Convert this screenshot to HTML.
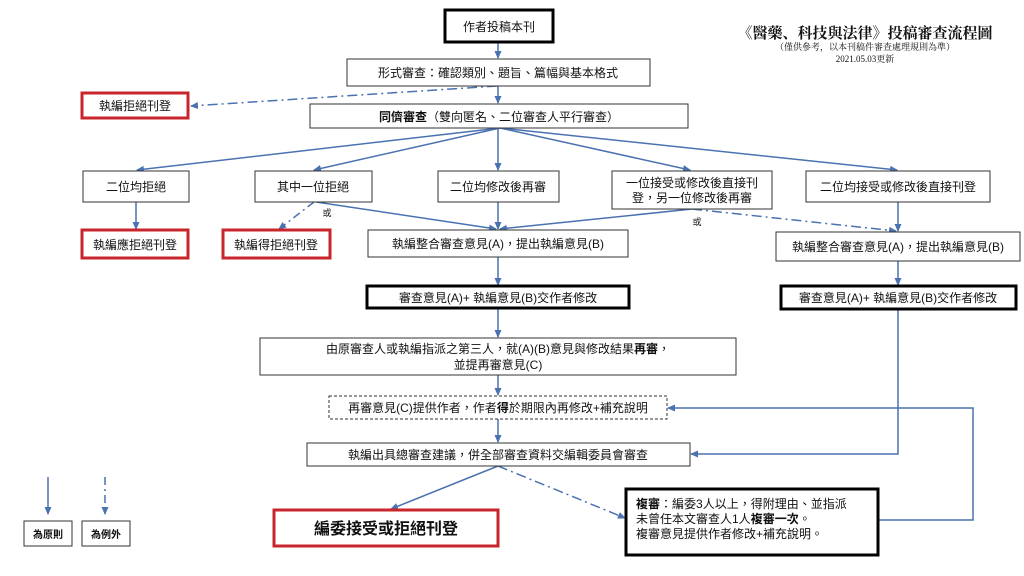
<!DOCTYPE html>
<html><head><meta charset="utf-8"><style>
body{margin:0;background:#fff;}
svg{display:block;}
text{font-family:"Liberation Sans","Noto Sans CJK TC",sans-serif;font-size:12px;fill:#111;}
.t{font-family:"Liberation Serif","Noto Serif CJK SC",serif;}
</style></head><body>
<svg width="1024" height="576" viewBox="0 0 1024 576" xmlns="http://www.w3.org/2000/svg">
<defs>
<marker id="a" markerWidth="8" markerHeight="8" refX="7" refY="4" orient="auto" markerUnits="userSpaceOnUse">
<path d="M0,0.5 L8,4 L0,7.5 Z" fill="#4a72b0"/></marker>
</defs>
<g stroke="#4a72b0" stroke-width="1.5" fill="none">
<line x1="498" y1="42" x2="498" y2="58" marker-end="url(#a)"/>
<line x1="498" y1="86" x2="498" y2="103" marker-end="url(#a)"/>
<line x1="497" y1="86" x2="191" y2="106" stroke-dasharray="10,4,2,4" marker-end="url(#a)"/>
<line x1="500" y1="128" x2="137" y2="170" marker-end="url(#a)"/>
<line x1="500" y1="128" x2="314" y2="170" marker-end="url(#a)"/>
<line x1="498" y1="128" x2="498" y2="170" marker-end="url(#a)"/>
<line x1="500" y1="128" x2="690" y2="170" marker-end="url(#a)"/>
<line x1="500" y1="128" x2="897" y2="170" marker-end="url(#a)"/>
<line x1="136" y1="202" x2="136" y2="229" marker-end="url(#a)"/>
<line x1="314" y1="202" x2="279" y2="229" stroke-dasharray="8,4,2,4" marker-end="url(#a)"/>
<line x1="316" y1="202" x2="496" y2="229" marker-end="url(#a)"/>
<line x1="498" y1="202" x2="498" y2="229" marker-end="url(#a)"/>
<line x1="692" y1="209" x2="500" y2="229" marker-end="url(#a)"/>
<line x1="692" y1="209" x2="896" y2="231" stroke-dasharray="10,4,2,4" marker-end="url(#a)"/>
<line x1="898" y1="202" x2="898" y2="231" marker-end="url(#a)"/>
<line x1="498" y1="257" x2="498" y2="285" marker-end="url(#a)"/>
<line x1="898" y1="261" x2="898" y2="285" marker-end="url(#a)"/>
<line x1="498" y1="308" x2="498" y2="337" marker-end="url(#a)"/>
<line x1="498" y1="375" x2="498" y2="395" marker-end="url(#a)"/>
<line x1="498" y1="419" x2="498" y2="442" marker-end="url(#a)"/>
<polyline points="898,309 898,454 691,454" marker-end="url(#a)"/>
<polyline points="878,520 973,520 973,408 668,408" marker-end="url(#a)"/>
<line x1="498" y1="466" x2="391" y2="509" marker-end="url(#a)"/>
<line x1="498" y1="466" x2="625" y2="518" stroke-dasharray="10,4,2,4" marker-end="url(#a)"/>
<line x1="48" y1="477" x2="48" y2="514" marker-end="url(#a)"/>
<line x1="105" y1="477" x2="105" y2="514" stroke-dasharray="8,4,2,4" marker-end="url(#a)"/>
</g>
<g fill="#fff" stroke="#333" stroke-width="1">
<rect x="445" y="10" width="108" height="32" stroke="#000" stroke-width="3"/>
<rect x="347" y="59" width="303" height="27"/>
<rect x="310" y="104" width="378" height="24"/>
<rect x="83" y="171" width="106" height="31"/>
<rect x="255" y="171" width="117" height="31"/>
<rect x="438" y="171" width="121" height="31"/>
<rect x="612" y="171" width="160" height="38"/>
<rect x="806" y="171" width="184" height="31"/>
<rect x="368" y="230" width="260" height="27"/>
<rect x="776" y="232" width="244" height="29"/>
<rect x="367" y="286" width="262" height="22" stroke="#000" stroke-width="3"/>
<rect x="781" y="286" width="235" height="23" stroke="#000" stroke-width="3"/>
<rect x="260" y="338" width="476" height="37"/>
<rect x="329" y="396" width="338" height="23" stroke-dasharray="3,2"/>
<rect x="307" y="443" width="383" height="23"/>
<rect x="626" y="489" width="252" height="66" stroke="#000" stroke-width="3"/>
<rect x="82" y="93" width="106" height="25" stroke="#c8262b" stroke-width="3"/>
<rect x="82" y="230" width="106" height="28" stroke="#c8262b" stroke-width="3"/>
<rect x="223" y="230" width="107" height="28" stroke="#c8262b" stroke-width="3"/>
<rect x="274" y="510" width="224" height="36" stroke="#c8262b" stroke-width="3"/>
<rect x="24" y="521" width="48" height="25"/>
<rect x="82" y="521" width="48" height="25"/>
</g>
<g text-anchor="middle">
<text x="499" y="31">作者投稿本刊</text>
<text x="498" y="77">形式審查：確認類別、題旨、篇幅與基本格式</text>
<text x="135" y="110">執編拒絕刊登</text>
<text x="499" y="121"><tspan font-weight="bold">同儕審查</tspan>（雙向匿名、二位審查人平行審查）</text>
<text x="136" y="191">二位均拒絕</text>
<text x="313" y="191">其中一位拒絕</text>
<text x="498" y="191">二位均修改後再審</text>
<text x="692" y="187">一位接受或修改後直接刊</text>
<text x="692" y="202">登，另一位修改後再審</text>
<text x="898" y="191">二位均接受或修改後直接刊登</text>
<text x="135" y="249">執編應拒絕刊登</text>
<text x="276" y="249">執編得拒絕刊登</text>
<text x="498" y="248">執編整合審查意見(A)，提出執編意見(B)</text>
<text x="898" y="251">執編整合審查意見(A)，提出執編意見(B)</text>
<text x="498" y="302">審查意見(A)+ 執編意見(B)交作者修改</text>
<text x="898" y="302">審查意見(A)+ 執編意見(B)交作者修改</text>
<text x="498" y="353">由原審查人或執編指派之第三人，就(A)(B)意見與修改結果<tspan font-weight="bold">再審</tspan>，</text>
<text x="498" y="369">並提再審意見(C)</text>
<text x="498" y="412">再審意見(C)提供作者，作者<tspan font-weight="bold">得</tspan>於期限內再修改+補充說明</text>
<text x="498" y="459">執編出具總審查建議，併全部審查資料交編輯委員會審查</text>
<text x="386" y="534" style="font-size:16px;font-weight:bold">編委接受或拒絕刊登</text>
<text x="48" y="538" style="font-size:10px;font-weight:bold">為原則</text>
<text x="106" y="538" style="font-size:10px;font-weight:bold">為例外</text>
<text x="327" y="216" style="font-size:9px">或</text>
<text x="697" y="225" style="font-size:9px">或</text>
<text class="t" x="865" y="38" style="font-size:15px;font-weight:bold">《醫藥、科技與法律》投稿審查流程圖</text>
<text class="t" x="865" y="50" style="font-size:9px">（僅供參考，以本刊稿件審查處理規則為準）</text>
<text class="t" x="865" y="62" style="font-size:9px">2021.05.03更新</text>
</g>
<text x="636" y="508"><tspan font-weight="bold">複審</tspan>：編委3人以上，得附理由、並指派</text>
<text x="636" y="523">未曾任本文審查人1人<tspan font-weight="bold">複審一次</tspan>。</text>
<text x="636" y="538">複審意見提供作者修改+補充說明。</text>
</svg>
</body></html>
